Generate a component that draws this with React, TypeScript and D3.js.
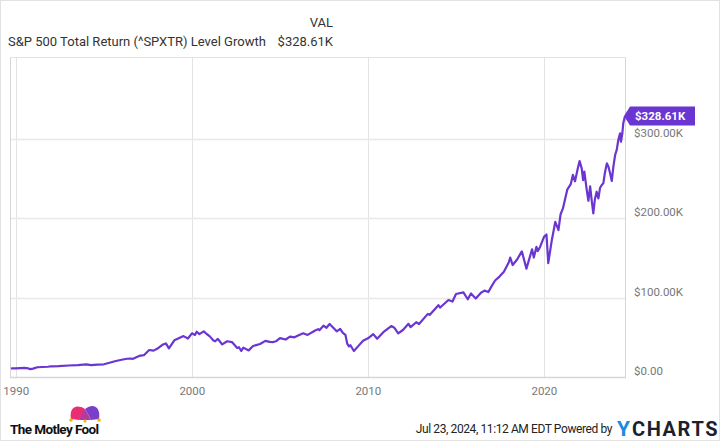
import React from "react";
import * as d3 from "d3";

const years: number[] = [
  1989.58, 1989.75, 1989.95, 1990.45, 1990.6, 1990.8, 1990.95, 1991.2, 1991.5, 1991.8, 1991.98,
  1992.4, 1992.98, 1993.5, 1993.98, 1994.25, 1994.6, 1994.98, 1995.3, 1995.6, 1995.98,
  1996.3, 1996.5, 1996.6, 1996.98, 1997.25, 1997.55, 1997.8, 1998.0, 1998.3, 1998.5, 1998.67, 1998.98,
  1999.35, 1999.5, 1999.75, 1999.98, 2000.15, 2000.25, 2000.4, 2000.65, 2000.85, 2000.98,
  2001.2, 2001.3, 2001.45, 2001.7, 2001.98, 2002.25, 2002.55, 2002.65, 2002.78, 2002.9,
  2003.2, 2003.45, 2003.85, 2004.15, 2004.4, 2004.6, 2004.75, 2004.98, 2005.3, 2005.55, 2005.8, 2005.98,
  2006.3, 2006.55, 2006.98, 2007.15, 2007.22, 2007.45, 2007.62, 2007.8, 2008.05, 2008.2, 2008.4,
  2008.55, 2008.7, 2008.8, 2008.9, 2008.98, 2009.18, 2009.45, 2009.7, 2009.98, 2010.28, 2010.5, 2010.85,
  2011.3, 2011.48, 2011.7, 2011.98, 2012.28, 2012.4, 2012.72, 2012.88, 2013.38, 2013.48, 2013.98,
  2014.08, 2014.55, 2014.78, 2014.98, 2015.4, 2015.65, 2015.83, 2016.1, 2016.4, 2016.6, 2016.82, 2016.98,
  2017.2, 2017.45, 2017.7, 2017.98, 2018.06, 2018.2, 2018.45, 2018.72, 2018.98, 2019.3, 2019.4,
  2019.55, 2019.62, 2019.75, 2019.98, 2020.12, 2020.22, 2020.42, 2020.62, 2020.8, 2020.92, 2021.05,
  2021.3, 2021.5, 2021.62, 2021.74, 2021.9, 2022.0, 2022.12, 2022.2, 2022.27, 2022.41, 2022.5, 2022.6,
  2022.69, 2022.78, 2022.87, 2022.97, 2023.07, 2023.16, 2023.26, 2023.35, 2023.45, 2023.55, 2023.64,
  2023.74, 2023.83, 2023.92, 2024.02, 2024.11, 2024.2, 2024.3, 2024.35, 2024.43, 2024.48, 2024.58,
];

// Value in thousands of dollars
const values: number[] = [
  10.3, 10.9, 10.9, 11.5, 11.3, 9.9, 10.5, 12.3, 12.6, 12.9, 13.5,
  13.7, 14.5, 15.0, 15.8, 15.0, 15.6, 16.0, 18.0, 19.8, 21.7,
  23.0, 23.3, 22.8, 26.6, 27.5, 34.0, 33.2, 35.5, 40.5, 42.3, 36.0, 46.2,
  50.0, 51.5, 48.5, 55.0, 53.0, 57.0, 54.0, 57.5, 53.5, 51.5,
  46.0, 45.0, 48.0, 41.0, 45.0, 44.0, 36.5, 37.5, 32.8, 37.0,
  33.5, 39.0, 41.5, 45.5, 44.2, 44.0, 45.0, 49.0, 47.2, 50.8, 50.0, 52.0,
  55.0, 53.0, 58.5, 60.3, 58.8, 64.6, 62.0, 66.8, 61.0, 57.5, 60.5,
  55.5, 53.0, 42.0, 38.5, 40.0, 32.8, 39.5, 45.7, 48.7, 54.0, 48.2, 56.5,
  64.2, 62.0, 55.0, 59.5, 67.0, 62.8, 69.0, 66.8, 79.5, 78.2, 90.5,
  87.5, 97.0, 95.0, 104.5, 106.5, 97.9, 105.2, 98.8, 106.2, 108.8, 107.0, 113.5,
  121.5, 126.5, 132.5, 144.5, 150.5, 141.0, 148.0, 158.2, 136.5, 160.8, 150.5,
  164.0, 158.5, 163.5, 176.5, 179.5, 143.5, 172.0, 195.5, 185.0, 205.0, 212.0,
  236.0, 243.0, 254.5, 246.5, 263.0, 272.0, 262.8, 248.0, 258.6, 235.0, 222.0, 240.0,
  222.0, 206.2, 224.0, 233.4, 225.0, 238.0, 241.8, 244.0, 258.6, 269.1, 264.9,
  256.0, 247.0, 264.9, 279.6, 286.0, 298.5, 306.9, 296.3, 307.0, 319.5, 328.61,
];

const xTicks: number[] = [1990, 2000, 2010, 2020];
const yTicks: number[] = [0, 100, 200, 300];
const yTickLabels: string[] = ["$0.00", "$100.00K", "$200.00K", "$300.00K"];
const titleText = "S&P 500 Total Return (^SPXTR) Level Growth";
const lastLabel = "$328.61K";

const PURPLE = "#6a35d1";
const FONT = "Roboto, 'Noto Sans', sans-serif";

export default function App() {
  const left = 11, right = 625, top = 58, bottom = 377;
  const x = d3.scaleLinear().domain([1989.7, 2024.58]).range([left, right]);
  const y = d3.scaleLinear().domain([0, 401.8]).range([bottom, top]);
  const data = years.map((yr, i) => ({ t: yr, v: values[i] }));
  const line = d3
    .line<{ t: number; v: number }>()
    .x((d) => x(Math.max(d.t, 1989.7)))
    .y((d) => y(d.v))
    .curve(d3.curveLinear);
  const last = data[data.length - 1];
  const ly = y(last.v);
  const lx = right;

  return (
    <svg
      width={720}
      height={441}
      style={{ position: "fixed", left: 0, top: 0, background: "#fff" }}
      fontFamily={FONT}
    >
      <rect x={0.5} y={0.5} width={719} height={440} fill="#fff" stroke="#e2e2e2" />
      {/* Header */}
      <text x={333} y={27} textAnchor="end" fontSize={13} fill="#333">VAL</text>
      <text x={8} y={46} fontSize={13} fill="#333">{titleText}</text>
      <text x={333} y={46} textAnchor="end" fontSize={13} fill="#333">{lastLabel}</text>

      {/* Grid */}
      {xTicks.map((t) => (
        <line key={"vx" + t} x1={Math.round(x(t)) + 0.5} x2={Math.round(x(t)) + 0.5} y1={top} y2={bottom} stroke="#e3e3e3" />
      ))}
      {yTicks.filter((v) => v > 0).map((v) => (
        <line key={"hy" + v} x1={left} x2={right} y1={Math.round(y(v)) + 0.5} y2={Math.round(y(v)) + 0.5} stroke="#e8e8e8" strokeWidth={1.5} />
      ))}
      {/* Frame */}
      <line x1={left - 0.5} x2={left - 0.5} y1={top} y2={bottom + 1} stroke="#d6d6d6" />
      <line x1={left - 1} x2={right + 1} y1={top - 0.5} y2={top - 0.5} stroke="#e3e3e3" />
      <line x1={right + 0.5} x2={right + 0.5} y1={top} y2={bottom + 1} stroke="#d6d6d6" />
      <line x1={left - 1} x2={right + 1} y1={bottom + 0.5} y2={bottom + 0.5} stroke="#d6d6d6" strokeWidth={1.5} />

      {/* Series */}
      <path d={line(data) || ""} fill="none" stroke={PURPLE} strokeWidth={2.2} strokeLinejoin="round" />

      {/* Y labels */}
      {yTicks.map((v, i) => (
        <text key={"yl" + v} x={634} y={y(v) - 2} fontSize={11.5} fill="#777">{yTickLabels[i]}</text>
      ))}
      {/* X labels */}
      {xTicks.map((t) => (
        <text key={"xl" + t} x={x(t)} y={395} textAnchor="middle" fontSize={11.5} fill="#777">{t}</text>
      ))}

      {/* Last value tag */}
      <path
        d={`M${lx - 1},${ly} L${lx + 5},${ly - 9.5} L${lx + 70},${ly - 9.5} L${lx + 70},${ly + 9.5} L${lx + 5},${ly + 9.5} Z`}
        fill={PURPLE}
      />
      <text x={lx + 10} y={ly + 4} fontSize={11.5} fontWeight="bold" fill="#fff">{lastLabel}</text>

      {/* Motley Fool logo */}
      <g>
        <path d="M71,419 C69,409 75,403 85,409 C83,413 81,417 79,420 Z" fill="#ea2e72" />
        <path d="M85,409 C94,402 101,408 99,419 L91,420 C89,416 87,412 85,409 Z" fill="#7a3fc8" />
        <path d="M79,420 C81,415 83,411 85,409 C87,412 89,416 91,420 Z" fill="#b53a9e" />
        <circle cx={71} cy={420} r={1.8} fill="#f2b705" />
        <circle cx={99} cy={420} r={1.8} fill="#f2b705" />
        <circle cx={85} cy={421} r={1.6} fill="#f2b705" />
        <text x={10} y={434} fontSize={13.5} fontWeight="bold" fill="#111" letterSpacing={-0.6}>The Motley Fool</text>
      </g>

      {/* Footer right */}
      <text x={612} y={433} textAnchor="end" fontSize={12} fill="#222" letterSpacing={-0.4}>Jul 23, 2024, 11:12 AM EDT Powered by</text>
      <text x={617} y={436} fontSize={21} fontWeight="bold" fill="#1b8be0">Y</text>
      <text x={632} y={436} fontSize={20} fontWeight="bold" fill="#1c1f2e" letterSpacing={1.6}>CHARTS</text>
    </svg>
  );
}
